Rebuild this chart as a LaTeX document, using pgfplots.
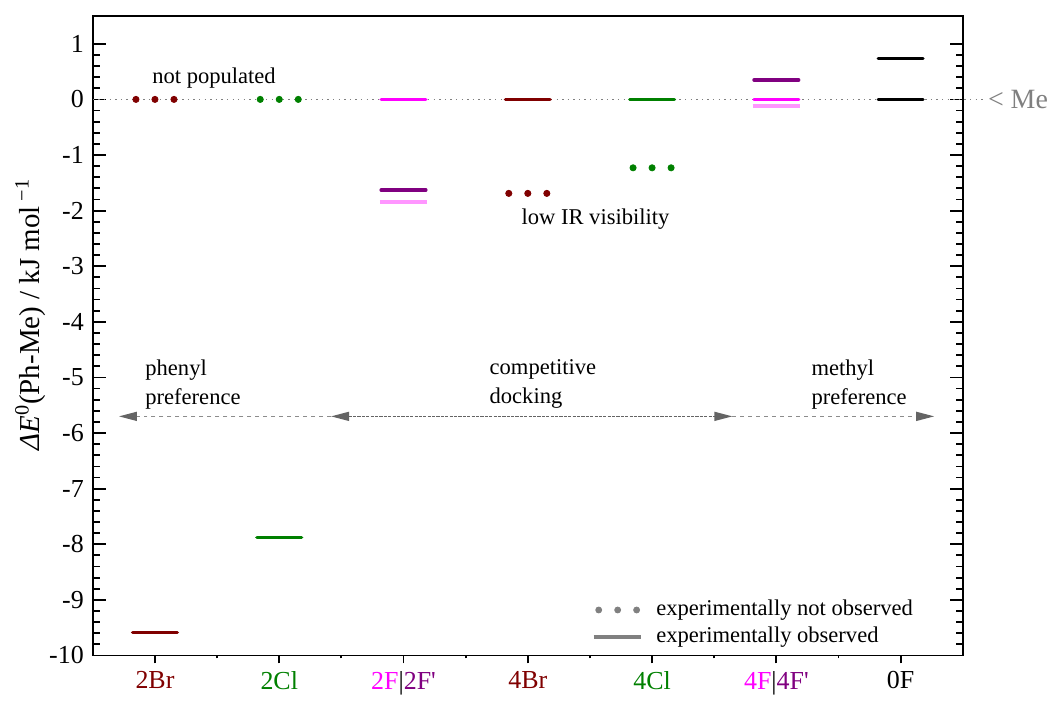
\documentclass[border=0pt]{standalone}
\usepackage{fontspec}
\setmainfont{Liberation Serif}
\setsansfont{Liberation Serif}
\usepackage{pgfplots}
\pgfplotsset{compat=1.18}
\usetikzlibrary{arrows.meta}
\definecolor{dred}{RGB}{128,0,0}
\definecolor{dgreen}{RGB}{0,128,0}
\definecolor{mag}{RGB}{255,0,255}
\definecolor{purp}{RGB}{128,0,128}
\definecolor{lpink}{RGB}{255,150,255}
\definecolor{agray}{RGB}{100,100,100}
\definecolor{lgray}{RGB}{140,140,140}
\definecolor{mgray}{RGB}{128,128,128}
\newcommand{\annfont}{\rmfamily\fontsize{11.3}{14.5}\selectfont}
\begin{document}
\fontsize{13}{15.6}\rmfamily\selectfont
\begin{tikzpicture}
\begin{axis}[
  scale only axis, width=436pt, height=320.5pt,
  xmin=-0.5, xmax=6.5, ymin=-10, ymax=1.5,
  clip=false,
  axis line style={line width=0.9pt},
  xtick={0,1,2,3,4,5,6},
  xticklabels={\textcolor{dred}{2Br},\textcolor{dgreen}{2Cl},{\textcolor{mag}{2F}|\textcolor{purp}{2F\textquotesingle}},\textcolor{dred}{4Br},\textcolor{dgreen}{4Cl},{\textcolor{mag}{4F}|\textcolor{purp}{4F\textquotesingle}},0F},
  xticklabel style={yshift=3pt, font=\rmfamily\fontsize{13}{15.6}\selectfont},
  minor x tick num=1,
  xtick pos=bottom, xtick align=outside,
  ytick={-10,-9,-8,-7,-6,-5,-4,-3,-2,-1,0,1},
  yticklabels={-10,-9,-8,-7,-6,-5,-4,-3,-2,-1,0,1},
  yticklabel style={font=\rmfamily\fontsize{13}{15.6}\selectfont},
  minor y tick num=4,
  ytick align=inside,
  major tick length=6.5pt, minor tick length=3.5pt,
  every tick/.style={black, line width=0.9pt},
  every major x tick/.append style={/pgfplots/major tick length=4pt},
  every minor x tick/.append style={/pgfplots/minor tick length=1.5pt},
  ylabel={\textit{ΔE}\textsuperscript{0}(Ph-Me) / kJ mol\textsuperscript{ −1}},
  ylabel style={at={(rel axis cs:-0.072,0.533)}, anchor=center, font=\rmfamily\fontsize{14.5}{16}\selectfont},
  legend style={draw=none, fill=none, at={(axis description cs:0.5665,0.0975)}, anchor=north west, legend cell align=left, row sep=1pt, font=\annfont,
    nodes={inner sep=1pt, text height=8pt, text depth=2.5pt, font=\annfont},
    /tikz/every odd column/.append style={column sep=6pt}},
  lev/.style={line width=1.7pt, line cap=round, forget plot},
  nob/.style={only marks, mark=*, mark size=1.55pt, forget plot},
]
% reference line at 0
\addplot[forget plot, mgray, line width=0.7pt, dash pattern=on 0.7pt off 2.1pt] coordinates {(-0.5,0) (6.675,0)};
% observed levels
\addplot[lev, dred] coordinates {(-0.18,-9.59) (0.18,-9.59)};
\addplot[lev, dgreen] coordinates {(0.82,-7.88) (1.18,-7.88)};
\addplot[lev, mag] coordinates {(1.82,0) (2.18,0)};
\addplot[lev, purp] coordinates {(1.82,-1.63) (2.18,-1.63)};
\addplot[forget plot, lpink, line width=2.2pt] coordinates {(1.81,-1.84) (2.19,-1.84)};
\addplot[lev, dred] coordinates {(2.82,0) (3.18,0)};
\addplot[lev, dgreen] coordinates {(3.82,0) (4.18,0)};
\addplot[lev, purp] coordinates {(4.82,0.35) (5.18,0.35)};
\addplot[lev, mag] coordinates {(4.82,0) (5.18,0)};
\addplot[forget plot, lpink, line width=2.2pt] coordinates {(4.81,-0.12) (5.19,-0.12)};
\addplot[lev, black] coordinates {(5.82,0.74) (6.18,0.74)};
\addplot[lev, black] coordinates {(5.82,0) (6.18,0)};
% not observed levels
\addplot[nob, dred] coordinates {(-0.153,0) (0,0) (0.153,0)};
\addplot[nob, dgreen] coordinates {(0.847,0) (1,0) (1.153,0)};
\addplot[nob, dred] coordinates {(2.847,-1.69) (3,-1.69) (3.153,-1.69)};
\addplot[nob, dgreen] coordinates {(3.847,-1.23) (4,-1.23) (4.153,-1.23)};
% legend
\addlegendimage{legend image code/.code={\fill[mgray] (2.5pt,0pt) circle (1.5pt) (12pt,0pt) circle (1.5pt) (21.5pt,0pt) circle (1.5pt);}}
\addlegendentry{experimentally not observed}
\addlegendimage{legend image code/.code={\draw[mgray, line width=1.7pt] (0pt,0pt) -- (23.5pt,0pt);}}
\addlegendentry{experimentally observed}
% arrows
\draw[lgray, line width=0.7pt, dash pattern=on 2pt off 2pt, -{Triangle[length=9pt,width=4.5pt,color=agray]}] (axis cs:1.417,-5.7) -- (axis cs:-0.29,-5.7);
\draw[agray, line width=0.7pt, dash pattern=on 1.6pt off 0.6pt, {Triangle[length=9pt,width=4.5pt]}-{Triangle[length=9pt,width=4.5pt]}] (axis cs:1.417,-5.7) -- (axis cs:4.646,-5.7);
\draw[lgray, line width=0.7pt, dash pattern=on 2pt off 2pt, -{Triangle[length=9pt,width=4.5pt,color=agray]}] (axis cs:4.646,-5.7) -- (axis cs:6.27,-5.7);
% annotations
\node[anchor=west, inner sep=0pt, font=\annfont] at (axis cs:-0.024,0.38) {not populated};
\node[anchor=west, inner sep=0pt, font=\annfont] at (axis cs:2.947,-2.15) {low IR visibility};
\node[anchor=west, inner sep=0pt, align=left, font=\annfont] at (axis cs:-0.08,-5.12) {phenyl\\preference};
\node[anchor=west, inner sep=0pt, align=left, font=\annfont] at (axis cs:2.69,-5.12) {competitive\\docking};
\node[anchor=west, inner sep=0pt, align=left, font=\annfont] at (axis cs:5.28,-5.12) {methyl\\preference};
\node[anchor=west, inner sep=0pt, mgray, font=\rmfamily\fontsize{14}{16}\selectfont] at (axis cs:6.70,0) {\textless\ Me};
% bounding box
\path (rel axis cs:-0.1067,-0.0562) (rel axis cs:1.0952,1.025);
\end{axis}
\end{tikzpicture}
\end{document}
